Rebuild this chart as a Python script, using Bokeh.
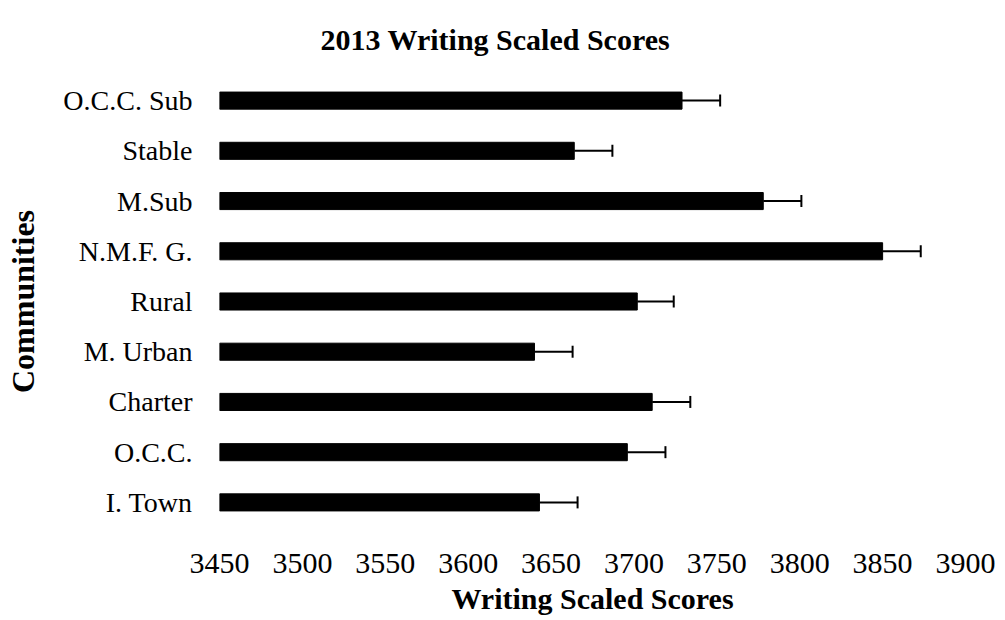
from bokeh.plotting import figure
from bokeh.models import ColumnDataSource, FactorRange, Range1d, FixedTicker, Whisker, TeeHead
from bokeh.embed import file_html
from bokeh.resources import INLINE

# Data (top to bottom as shown)
categories = ["O.C.C. Sub", "Stable", "M.Sub", "N.M.F. G.", "Rural",
              "M. Urban", "Charter", "O.C.C.", "I. Town"]
scores = [3729, 3664, 3778, 3850, 3702, 3640, 3711, 3696, 3643]
errors = [23, 23, 23, 23, 22, 23, 23, 23, 23]
x_ticks = [3450, 3500, 3550, 3600, 3650, 3700, 3750, 3800, 3850, 3900]
title_text = "2013 Writing Scaled Scores"

x_start = x_ticks[0]
x_end = x_ticks[-1]

FONT = "Liberation Serif"

source = ColumnDataSource(data=dict(
    cat=categories,
    score=scores,
    upper=[s + e for s, e in zip(scores, errors)],
))

p = figure(
    width=1000, height=620,
    y_range=FactorRange(factors=list(reversed(categories))),
    x_range=Range1d(x_start, x_end),
    output_backend="svg", toolbar_location=None,
    min_border_left=219, min_border_right=35,
    min_border_top=75, min_border_bottom=93,
    title=title_text,
)

p.hbar(y="cat", left=x_start, right="score", height=0.34, source=source,
       fill_color="black", line_color="black")

whisker = Whisker(source=source, base="cat", lower="score", upper="upper",
                  dimension="width", line_color="black", line_width=2,
                  lower_head=None,
                  upper_head=TeeHead(size=12, line_color="black", line_width=2))
p.add_layout(whisker)

# Title
p.title.text_font = FONT
p.title.text_font_size = "30px"
p.title.text_font_style = "bold"
p.title.text_color = "black"
p.title.align = "left"
p.title.offset = 101
p.title.standoff = 40

# Axes
p.xaxis.ticker = FixedTicker(ticks=x_ticks)
p.xaxis.axis_label = "Writing Scaled Scores"
p.yaxis.axis_label = "Communities"
for ax in (p.xaxis, p.yaxis):
    ax.axis_line_color = None
    ax.major_tick_line_color = None
    ax.minor_tick_line_color = None
    ax.major_label_text_font = FONT
    ax.major_label_text_color = "black"
    ax.axis_label_text_font = FONT
    ax.axis_label_text_font_style = "bold"
    ax.axis_label_text_color = "black"

p.xaxis.major_label_text_font_size = "30px"
p.yaxis.major_label_text_font_size = "28px"
p.xaxis.axis_label_text_font_size = "30px"
p.yaxis.axis_label_text_font_size = "32px"
p.xaxis.major_label_standoff = 20
p.yaxis.major_label_standoff = 21
p.xaxis.axis_label_standoff = 6
p.yaxis.axis_label_standoff = 19

p.xgrid.grid_line_color = None
p.ygrid.grid_line_color = None
p.outline_line_color = None
p.background_fill_color = "white"
p.border_fill_color = "white"

with open("out.html", "w") as f:
    f.write(file_html(p, INLINE))
